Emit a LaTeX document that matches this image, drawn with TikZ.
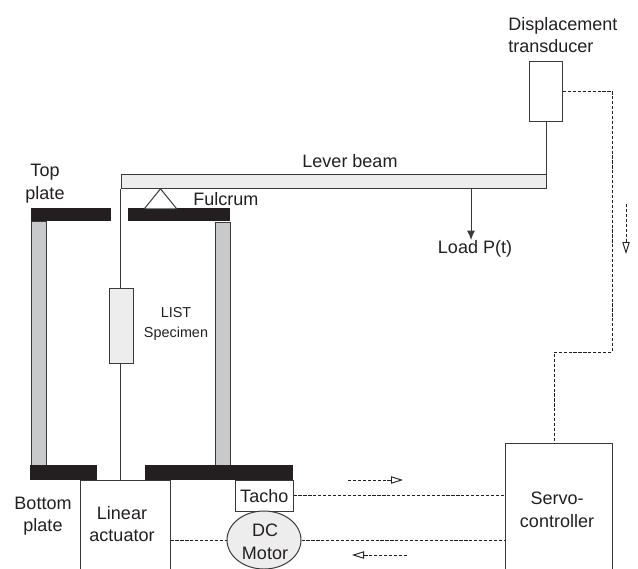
\documentclass[tikz,border=0pt]{standalone}
\usepackage{fontspec}
\setmainfont{Liberation Sans}
\usetikzlibrary{arrows.meta,positioning,calc,shapes.geometric}
\definecolor{ink}{HTML}{231F20}
\definecolor{line}{HTML}{3A3A3A}
\definecolor{pale}{HTML}{EDEDED}
\definecolor{column}{HTML}{C8C9CB}

\begin{document}
\begin{tikzpicture}[x=0.75pt,y=-0.75pt,
          lab/.style={align=center, font=\fontsize{13.5}{17}\selectfont, text=ink, inner sep=0pt},
          box/.style={draw=line, line width=0.75pt, inner sep=0pt},
          plate/.style={fill=ink},
          col/.style={draw=line, line width=0.75pt, fill=column},
          link/.style={draw=line, line width=0.75pt},
          sig/.style={draw=ink, line width=0.7pt, dash pattern=on 2.4pt off 1.3pt},
          dir/.style={sig, -{Triangle[open, length=9pt, width=5.5pt, line width=0.7pt, sep=0pt]}}]
        \clip (0,0) rectangle (638,568);
        % frame
        \fill[plate] (31,208) rectangle (111,221);
        \fill[plate] (128,208) rectangle (230,221);
        \draw[col] (31,221) rectangle (46,467);
        \draw[col] (215,222) rectangle (230,465);
        \fill[plate] (30,465) rectangle (97,480);
        \fill[plate] (145,465) rectangle (293,480);
        % beam and specimen
        \node[box, fill=pale, anchor=north west, minimum width=425.5*0.75pt, minimum height=14.5*0.75pt] (beam) at (120.5,173.5) {};
        \node[box, fill=pale, minimum width=24*0.75pt, minimum height=75*0.75pt] (spec) at (121,325.5) {};
        \node[box, anchor=north, minimum width=90*0.75pt, minimum height=120*0.75pt] (act) at (125,480) {};
        \node[box, fill=white, anchor=north west, minimum width=57.5*0.75pt, minimum height=30.5*0.75pt] (tacho) at (235,480) {};
        \node[box, fill=pale, ellipse, minimum width=74*0.75pt, minimum height=58*0.75pt] (motor) at (264,540) {};
        \node[box, anchor=north, minimum width=107*0.75pt, minimum height=160*0.75pt] (servo) at (558.5,443) {};
        \node[box, fill=white, minimum width=33*0.75pt, minimum height=60*0.75pt] (disp) at (546,91) {};
        \node[draw=line, line width=0.75pt, fill=white, isosceles triangle, isosceles triangle apex angle=78, shape border rotate=90, inner sep=0pt, minimum height=20*0.75pt, anchor=apex] (ful) at (160.5,188) {};
        \coordinate (mid) at (120.5,480);
        \draw[link] (beam.south west) -- (spec.north -| beam.south west);
        \draw[link] (spec.south -| beam.south west) -- (mid);
        \draw[link] (disp.south) -- (disp.south |- beam.north);
        \coordinate (load) at (471,240);
        \draw[link, -{Latex[length=7pt, width=6pt]}] (load |- beam.south) -- (load);
        % signal lines
        \coordinate (turn) at (612,352);
        \draw[sig] (disp.east) -- (disp.east -| turn) -- (turn) -- (turn -| 554,0) -- (554,443);
        \draw[sig] (tacho.east) -- (tacho.east -| servo.west);
        \draw[sig] (motor.east) -- (motor.east -| servo.west);
        \draw[sig] (act.east |- motor.west) -- (motor.west);
        \coordinate (a1) at (348,480);
        \coordinate (a2) at (403,480);
        \coordinate (b1) at (407,555);
        \coordinate (b2) at (352,555);
        \coordinate (c1) at (626,204);
        \coordinate (c2) at (626,254);
        \draw[dir] (a1) -- (a2);
        \draw[dir] (b1) -- (b2);
        \draw[dir] (c1) -- (c2);
        % labels
        \node[lab, align=left, anchor=west] (disptext) at (508,35) {Displacement\\transducer};
        \node[lab] (beamtext) at (350,161) {Lever beam};
        \node[lab] (toptext) at (45,184) {Top\\plate};
        \node[lab, anchor=west] (fultext) at (193,199) {Fulcrum};
        \node[lab] (loadtext) at (475,249) {Load P(t)};
        \node[lab, font=\fontsize{10.8}{15}\selectfont] (spectext) at (176,324) {LIST\\Specimen};
        \node[lab] (bottext) at (43,516) {Bottom\\plate};
        \node[lab] (acttext) at (122,524) {Linear\\actuator};
        \node[lab] (tachotext) at (tacho) {Tacho};
        \node[lab] (motortext) at (265,542) {DC\\Motor};
        \node[lab] (servotext) at (557,510) {Servo-\\controller};
      \end{tikzpicture}
\end{document}
